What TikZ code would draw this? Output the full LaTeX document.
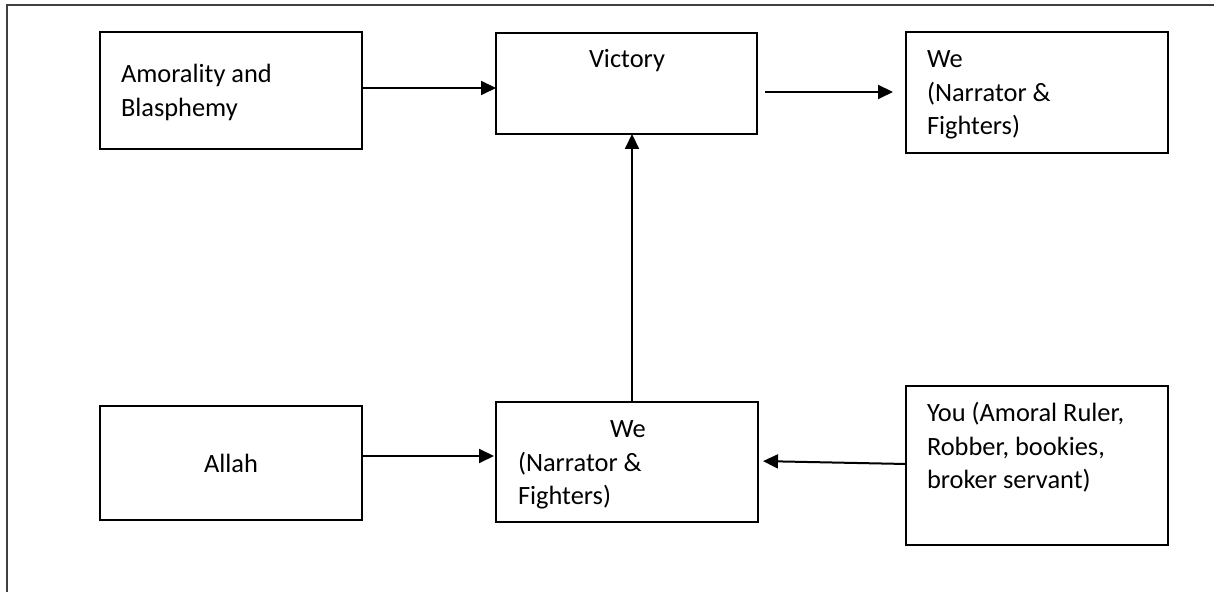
\documentclass[tikz,border=0pt]{standalone}
\usepackage{fontspec}
\setmainfont{Carlito}
\usetikzlibrary{arrows.meta,calc}
\tikzset{
  box/.style={draw=black, line width=1.4pt, inner sep=0pt, outer sep=0pt, rectangle},
  txt/.style={inner sep=0pt, outer sep=0pt, anchor=base west, font=\fontsize{13.2pt}{16.6pt}\selectfont},
  ctxt/.style={txt, anchor=base},
  arr/.style={draw=black, line width=1pt, -{Triangle[length=7.5pt,width=7pt]}},
  frame/.style={draw=black!75, line width=0.75pt}
}
\newcommand{\mylines}[1]{\begin{tabular}[t]{@{}l@{}}#1\end{tabular}}
\begin{document}
\begin{tikzpicture}[x=0.5pt,y=-0.5pt]
\useasboundingbox (0,0) rectangle (1221,592);
\draw[frame] (7,592) -- (7,5) -- (1214,5);
% boxes
\node[box, minimum width=131pt, minimum height=58.5pt] (amo) at (231,90.5) {};
\node[box, minimum width=130.5pt, minimum height=50.5pt] (vic) at (626.5,83.5) {};
\node[box, minimum width=131pt, minimum height=60.5pt] (wet) at (1037,92.5) {};
\node[box, minimum width=131pt, minimum height=57pt] (alla) at (231,463) {};
\node[box, minimum width=131pt, minimum height=60pt] (web) at (627,462) {};
\node[box, minimum width=131pt, minimum height=79.5pt] (you) at (1037,465.5) {};
% texts
\node[txt] (amoT) at (121,83) {\mylines{Amorality and\\Blasphemy}};
\node[ctxt] (vicT) at (627,68) {Victory};
\node[txt] (wetT) at (927,68) {\mylines{We\\(Narrator \&\\Fighters)}};
\node[ctxt] (allaT) at (231,473) {Allah};
\node[txt] (webT) at (518,438) {\mylines{\hspace*{46pt}We\\(Narrator \&\\Fighters)}};
\node[txt] (youT) at (927,422) {\mylines{You (Amoral Ruler,\\Robber, bookies,\\broker servant)}};
% connectors
\draw[arr] (amo.east |- 0,88) -- (vic.west |- 0,88);
\draw[arr, shorten <=4pt, shorten >=6.5pt] (vic.east |- 0,92) -- (wet.west |- 0,92);
\draw[arr] ($(web.north)+(5,0)$) -- ($(vic.south)+(5.5,0)$);
\draw[arr, shorten >=1pt] (alla.east |- 0,456) -- (web.west |- 0,456);
\draw[arr, shorten >=2.5pt] (you.west |- 0,464) -- (web.east |- 0,461);
\end{tikzpicture}
\end{document}
